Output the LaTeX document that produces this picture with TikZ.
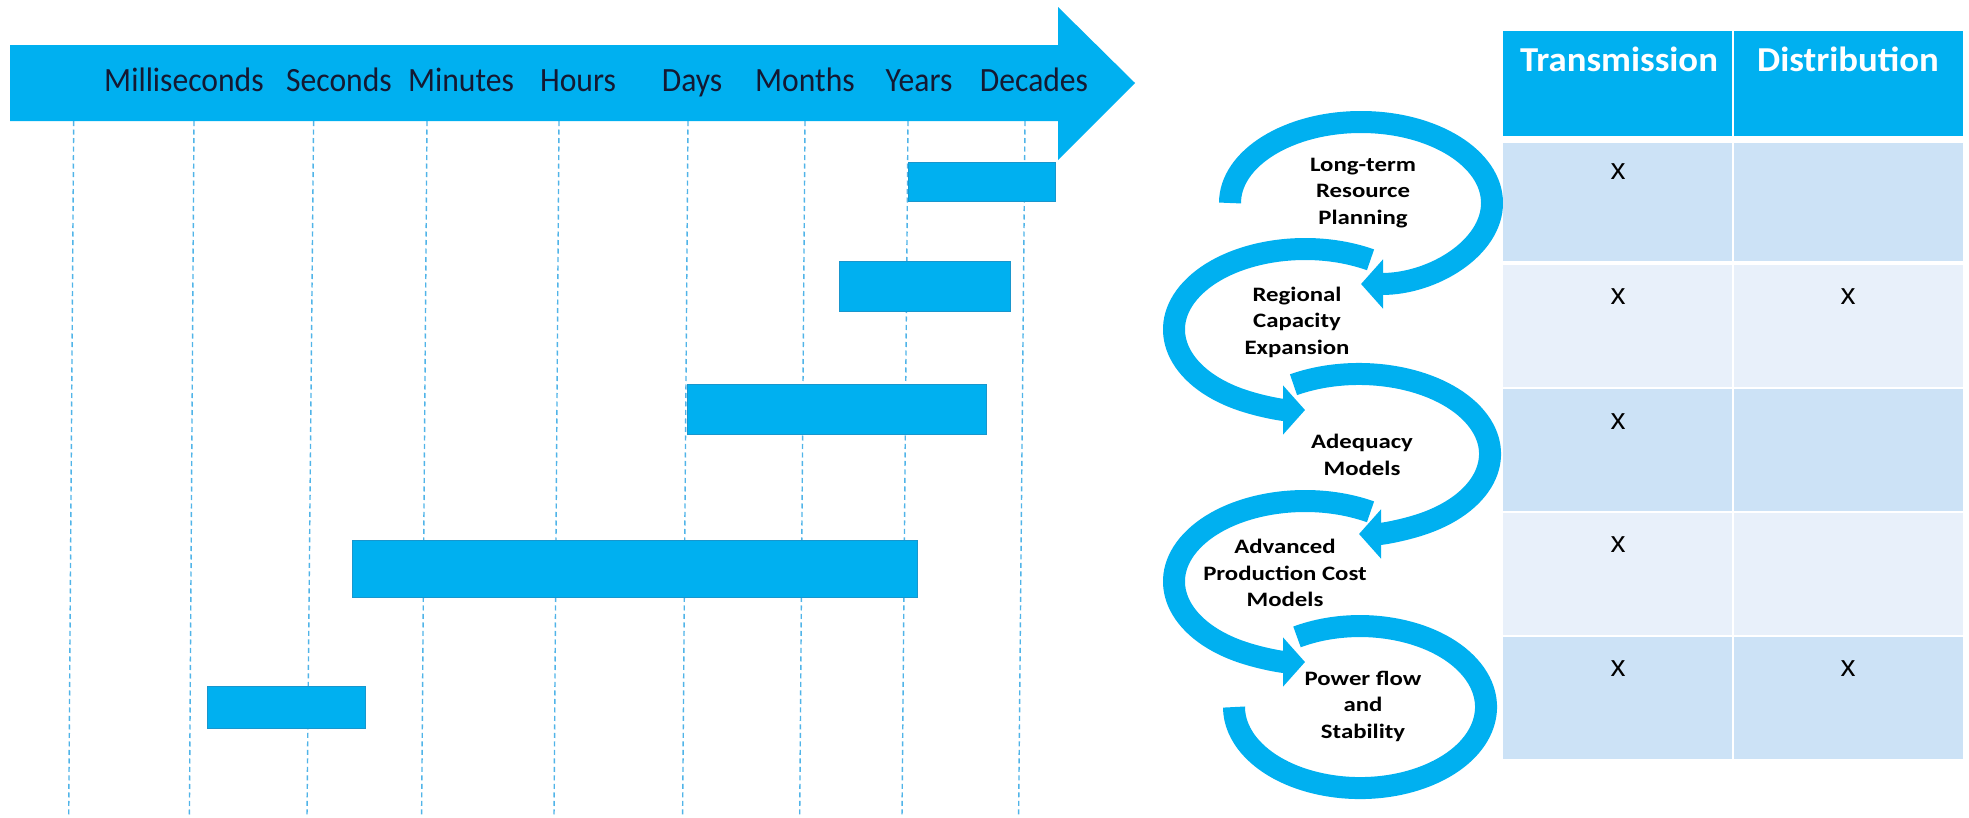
\documentclass[tikz,border=0pt]{standalone}
\usepackage{fontspec}
\setmainfont{Carlito}
\newfontfamily\scalefont[FakeStretch=0.93]{Carlito}
\newfontfamily\loopfont[FakeStretch=1.21]{Carlito}
\newfontfamily\headfont[FakeStretch=1.05]{Carlito}
\newfontfamily\markfont{Liberation Sans}
\usetikzlibrary{arrows.meta}
\definecolor{skyfill}{RGB}{0,176,240}
\definecolor{skyedge}{RGB}{25,150,205}
\definecolor{gridline}{RGB}{80,180,232}
\definecolor{rowdark}{RGB}{204,226,246}
\definecolor{rowlight}{RGB}{232,240,250}
\definecolor{labelink}{RGB}{20,25,50}

\begin{document}
\begin{tikzpicture}[x=1pt,y=-1pt,
  scalelabel/.style={anchor=base, inner sep=0, text=labelink,
    font=\scalefont\fontsize{34}{40}\selectfont},
  guide/.style={gridline, line width=1.4pt, dash pattern=on 5pt off 3.5pt},
  spanbar/.style={fill=skyfill, draw=skyedge, line width=1pt},
  loop/.style={skyfill, line width=22pt},
  loophead/.style={loop, -{Triangle[length=22pt,width=48pt]}},
  looplabel/.style={align=center, inner sep=0, text=black,
    font=\loopfont\bfseries\fontsize{20.5}{26.5}\selectfont},
  headlabel/.style={anchor=base, inner sep=0, text=white,
    font=\headfont\bfseries\fontsize{35}{40}\selectfont},
  tickmark/.style={inner sep=0, text=black, font=\markfont\fontsize{30}{32}\selectfont},
]
\useasboundingbox (0,0) rectangle (1969,817);
\fill[white] (0,0) rectangle (1969,817);

% dashed guides below the time-scale arrow
\foreach \a/\b in {73.7/68.7, 194/189.4, 313.6/307, 427/421.6, 559/554,
                   688/682.6, 805/799.7, 908/902, 1025/1018.6}
  \draw[guide] (\a,121) -- (\b,817);

% time-scale arrow
\fill[skyfill] (10,45) -- (1058,45) -- (1058,7) -- (1135,83) -- (1058,160)
  -- (1058,121) -- (10,121) -- cycle;
\node[scalelabel] (ms)  at (184,91)  {Milliseconds};
\node[scalelabel] (sec) at (339,91)  {Seconds};
\node[scalelabel] (min) at (461,91)  {Minutes};
\node[scalelabel] (hr)  at (578,91)  {Hours};
\node[scalelabel] (day) at (692,91)  {Days};
\node[scalelabel] (mon) at (805,91)  {Months};
\node[scalelabel] (yr)  at (919,91)  {Years};
\node[scalelabel] (dec) at (1034,91) {Decades};

% time-span bars
\draw[spanbar] (908,162) rectangle (1055,201);
\draw[spanbar] (839,261) rectangle (1010,311);
\draw[spanbar] (687,384) rectangle (986,434);
\draw[spanbar] (352,540) rectangle (917,597);
\draw[spanbar] (207,686) rectangle (365,728);

% chain of looping arrows
\draw[loophead] (1230,203) arc[start angle=180, end angle=450, x radius=131, y radius=81];
\draw[loophead] (1370.5,259.8) arc[start angle=-60, end angle=-270, x radius=131, y radius=80.5];
\draw[loophead] (1293.5,384.7) arc[start angle=240, end angle=450, x radius=131, y radius=80];
\draw[loophead] (1370.5,511.8) arc[start angle=-60, end angle=-270, x radius=131, y radius=80.5];
\draw[loop] (1297,636.9) arc[start angle=240, end angle=540, x radius=126, y radius=81];

\node[looplabel] (ltrp) at (1363,193) {Long-term\\Resource\\Planning};
\node[looplabel] (rce)  at (1297,322) {Regional\\Capacity\\Expansion};
\node[looplabel] (adq)  at (1362,455) {Adequacy\\Models};
\node[looplabel] (apcm) at (1285,573) {Advanced\\Production Cost\\Models};
\node[looplabel] (pfs)  at (1363,706) {Power flow\\and\\Stability};

% table
\fill[skyfill] (1503,31) rectangle (1732,136);
\fill[skyfill] (1734,31) rectangle (1963,136);
\node[headlabel] (trans) at (1619,71) {Transmission};
\node[headlabel] (dist)  at (1848,71) {Distribution};

\foreach \t/\b/\c in {143/261/rowdark, 265/387/rowlight, 389/511/rowdark,
                      513/635/rowlight, 637/759/rowdark} {
  \fill[\c] (1503,\t) rectangle (1732,\b);
  \fill[\c] (1734,\t) rectangle (1963,\b);
}

\node[tickmark] (t1) at (1618,172) {x};
\node[tickmark] (t2) at (1618,297) {x};
\node[tickmark] (t3) at (1618,422) {x};
\node[tickmark] (t4) at (1618,545) {x};
\node[tickmark] (t5) at (1618,669) {x};
\node[tickmark] (d2) at (1848,297) {x};
\node[tickmark] (d5) at (1848,669) {x};
\end{tikzpicture}
\end{document}
